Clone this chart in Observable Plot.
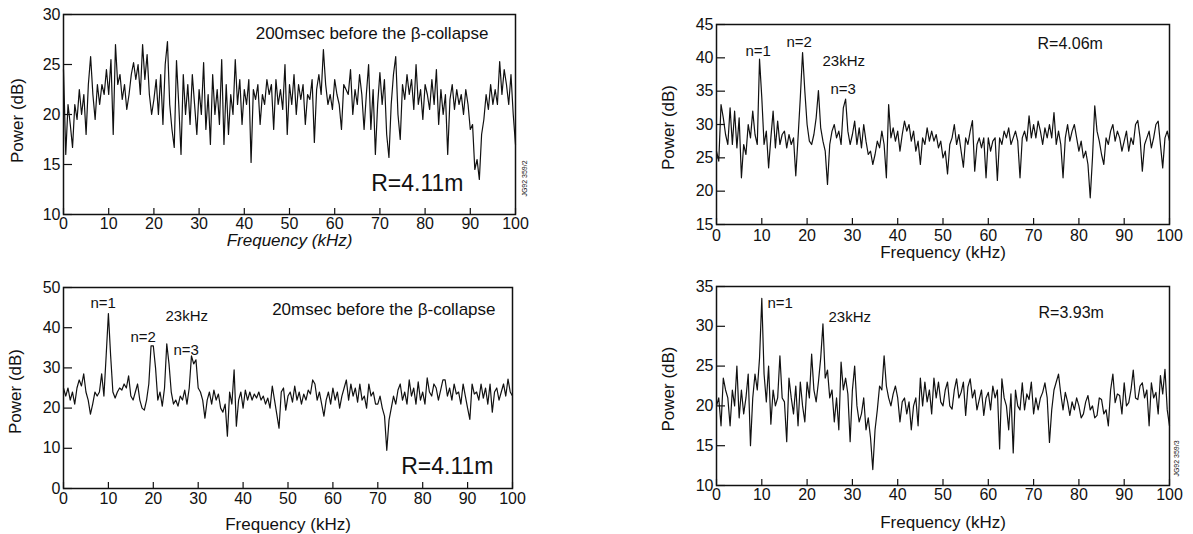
<!DOCTYPE html>
<html>
<head>
<meta charset="utf-8">
<script src="https://cdn.jsdelivr.net/npm/d3@7"></script>
<script src="https://cdn.jsdelivr.net/npm/@observablehq/plot@0.6"></script>
<style>
  body { margin: 0; background: #fff; }
  #root { position: relative; width: 1193px; height: 534px; overflow: hidden; background: #fff; }
  .panel { position: absolute; }
  g[aria-label="ls05"] text { letter-spacing: 0.5px; }
  g[aria-label="ls1"] text { letter-spacing: 1px; }
  g[aria-label="ls12"] text { letter-spacing: 1.2px; }
  g[aria-label="axlab"] text { letter-spacing: 0.4px; }
</style>
</head>
<body>
<div id="root"></div>
<script>
// ---- data: power spectra sampled every 0.5 kHz from 0 to 100 kHz ----
const stepKHz = 0.5;

// top-left: 200 msec before the beta-collapse, R = 4.11 m
const p1 = [
  24.5, 16, 21, 19, 16.7, 21, 19.5, 22.5, 20, 22,
  18, 23, 25.8, 22, 19.5, 23, 21, 23, 22, 24.5,
  22, 25.5, 18, 27, 23, 24, 21.5, 23, 20.5, 22,
  24, 25.2, 23.5, 25, 22, 27, 23.5, 26, 22, 20,
  21.5, 23.5, 20, 24, 19, 25, 27.3, 21, 18.5, 16.7,
  25.4, 21, 16, 24, 20, 23, 19, 24, 21, 18,
  22.5, 20, 25.2, 18.5, 22, 17, 24, 20, 22.5, 19,
  25.5, 17, 23, 18, 22, 20, 25.5, 21, 23.5, 19,
  22.5, 21, 23.5, 15.2, 22.5, 21.5, 23, 19, 22, 21,
  23.5, 22, 23, 18.5, 23.5, 21, 22.5, 20.5, 25, 18,
  23, 21, 24, 20, 23, 21.5, 23, 19, 22, 21.5,
  23.5, 17.2, 22.5, 24, 22, 26.5, 23, 21, 22, 20.5,
  23.5, 22, 21, 18.5, 23, 22.5, 22, 24.5, 20, 22.5,
  21, 24, 22, 18.5, 22, 25, 18.5, 22.5, 16, 21,
  24.2, 21, 23.5, 18, 15.7, 21, 24, 25.8, 20, 17.5,
  23, 21.5, 24, 22, 23.5, 20.5, 25, 21, 22.5, 19.5,
  23, 22, 20.5, 23.5, 21, 24.5, 19, 22.5, 20, 22,
  16, 21.5, 23, 20.5, 22.5, 21, 22, 20, 22.5, 21,
  18.5, 19, 14.5, 15.5, 13.5, 18, 19.5, 22, 20.5, 23,
  21, 22.5, 21, 25.3, 22, 24.5, 23, 21, 24, 20,
  17
];

// top-right: R = 4.06 m
const p2 = [
  26, 24.5, 33, 31, 28.5, 27, 32.5, 27, 32, 26.5,
  31, 22, 27, 25.5, 30, 28, 32, 28.5, 27, 39.8,
  34, 27, 29, 23.5, 28, 32, 26.5, 30.5, 27, 28.5,
  29, 26.5, 28.5, 27, 28, 22.3, 28, 34, 40.8, 35,
  30, 27.5, 27, 28.5, 31, 35.1, 29.5, 27.5, 26, 21,
  27, 29, 30, 28, 29, 27, 32.5, 33.8, 29, 27,
  28.5, 30.5, 27, 29.5, 26.5, 30, 27.5, 25.5, 26, 24,
  25.5, 27.5, 26.5, 29, 27, 22, 33, 28, 29.5, 27.5,
  29, 26, 28.5, 30.5, 29, 30, 27.5, 29, 26, 27.5,
  24, 28, 27, 29.5, 27.5, 29, 27.5, 28.5, 26.5, 27.5,
  25, 26, 22.6, 27, 28, 30, 27, 28.5, 26, 23.6,
  28, 27, 29, 30.6, 23, 27, 28, 26.5, 28, 22,
  28, 26, 27.5, 28, 21.6, 28, 27, 29, 28, 29.5,
  27, 28, 29, 27.5, 22, 28, 29, 27.5, 31.3, 28,
  30, 28, 30.5, 29, 27, 29.5, 28, 30, 28, 31.8,
  27, 29, 27, 22, 28, 30, 27.5, 29, 30, 28,
  26, 27.5, 25, 26, 24, 19, 25, 32.8, 29, 27.5,
  25.5, 24, 28, 27, 29, 30, 27.5, 29, 28, 26,
  27.5, 29, 26, 28, 27, 30, 30.6, 28, 23, 27,
  28, 29, 26.5, 28, 30, 30.5, 27, 23.5, 28, 29,
  27.5
];

// bottom-left: 20 msec before the beta-collapse, R = 4.11 m
const p3 = [
  25, 23, 25, 22, 24, 21, 25, 27, 25.5, 28.5,
  24, 22, 18.5, 21, 24, 23, 24, 28.5, 23, 33,
  43.5, 33, 24, 22.5, 24, 25, 24.5, 26, 25, 28,
  23, 22, 24, 26, 22, 20, 19.5, 22, 26, 35.5,
  35.5, 30, 22, 24, 20.5, 25, 36, 31, 24, 21,
  22, 20.5, 23, 22, 24.5, 21, 25, 33, 31, 32,
  25, 24, 22, 17.5, 22, 24, 21, 24.5, 22, 23.5,
  20, 19, 21, 13, 24, 21, 29.5, 15.5, 22, 24,
  20, 24.5, 22, 24, 22, 23.5, 22.5, 24, 22, 23,
  21, 22.5, 20, 25.5, 22, 18.5, 15, 24, 25, 19.5,
  23, 24, 21.5, 25.5, 22, 24, 21, 23.5, 22, 24.5,
  23.5, 27, 26, 22, 24, 21, 18, 22, 24, 21,
  25, 22, 24, 20, 23, 25, 27, 22, 26, 23,
  25, 21.5, 26, 22, 23, 20, 26, 23, 24, 21,
  21, 23, 20, 18, 9.5, 17, 20, 23, 21, 24.5,
  26, 22, 24, 21, 27, 23, 25, 21, 26.5, 22,
  24, 21, 27.5, 24, 23, 26, 25, 22, 24.5, 27,
  27, 23, 25, 22, 26, 23.5, 24, 21, 26, 23,
  20, 17.2, 26, 23.5, 24, 22, 26, 22.5, 25, 21,
  26, 19, 24, 25, 22, 24, 26, 23, 27.2, 24,
  23
];

// bottom-right: R = 3.93 m
const p4 = [
  20, 21, 17.5, 23.5, 22, 21, 17.5, 22, 20, 25,
  18.5, 22, 19, 21, 24, 15, 21, 24, 22, 26,
  33.5, 24, 20.5, 25, 17.7, 22, 20, 21, 26.3, 21,
  20.5, 15.5, 23.5, 21, 19, 22.5, 17.5, 23, 20, 18,
  23, 21, 26.5, 22, 20.5, 23, 26, 30.3, 23.5, 24.5,
  21, 22, 18, 21, 17, 25.5, 22, 23.5, 21.5, 15.5,
  22, 25, 20, 18, 19, 21, 17, 18.5, 16, 12,
  17, 19.5, 22.5, 22, 26.3, 22.5, 21, 20, 21.5, 22.5,
  21, 18, 20.5, 21, 19, 20.5, 17, 20, 21, 17.5,
  23.5, 20, 23, 20.5, 22, 19, 23.5, 21, 23, 20.5,
  20, 22, 23, 20, 19.6, 22, 23.4, 21, 21.7, 23,
  18.8, 22.4, 23.4, 21, 22, 19.5, 20.8, 22, 18.8, 21,
  21.7, 19.5, 22.5, 21, 22, 14.6, 23.4, 21, 20, 17,
  21.5, 14.1, 22, 20, 19.5, 22.9, 19.5, 21.5, 20.8, 23,
  19, 21, 19.5, 21, 21.7, 22.9, 21, 15.4, 19.5, 22,
  23, 24, 21.5, 19.5, 21.7, 20.5, 18.8, 20.5, 19.5, 21,
  20, 18.5, 19, 20.5, 21.3, 19.5, 20, 18.5, 18.8, 21,
  20.8, 19, 19.5, 17.5, 22, 24, 20.4, 21.5, 21.3, 19,
  22.9, 20, 20.4, 22, 24.5, 21, 20.8, 22.5, 22.9, 21,
  22, 17.5, 22.9, 21, 21.7, 19, 23.8, 21.5, 24.6, 19.5,
  17.5
];

const xTicks = [0, 10, 20, 30, 40, 50, 60, 70, 80, 90, 100];
const yTicks1 = [10, 15, 20, 25, 30];
const yTicks2 = [15, 20, 25, 30, 35, 40, 45];
const yTicks3 = [0, 10, 20, 30, 40, 50];
const yTicks4 = [10, 15, 20, 25, 30, 35];
const xLabel = "Frequency (kHz)";
const yLabel = "Power (dB)";

// ---- layout / styling ----
const FONT = "'Liberation Sans', Arial, Helvetica, sans-serif";
const X_TICK_LEN = 6, Y_TICK_LEN = 9;

const panels = [
  {
    values: p1, yDomain: [10, 30], yTicks: yTicks1,
    box: {left: 0, top: 0, width: 545, height: 265},
    m: {l: 63, r: 30, t: 14, b: 51},
    xGap: 3, xLabelDy: 31, xItalic: true, yLabDx: -45.5, yLabDy: 6,
    notes: [
      {text: "200msec before the β-collapse", fa: "top-right", ta: "end", dx: -27, dy: 24, size: 17, cls: "ls05"},
      {text: "R=4.11m", fa: "bottom-right", ta: "end", dx: -52, dy: -24, size: 23, cls: "plain"},
      {text: "JG92 359/2", fa: "bottom-right", ta: "middle", dx: 9, dy: -36, size: 7, cls: "plain", rotate: -90, la: "middle"}
    ]
  },
  {
    values: p2, yDomain: [15, 45], yTicks: yTicks2,
    box: {left: 645, top: 0, width: 548, height: 270},
    m: {l: 71, r: 24, t: 24, b: 46},
    xGap: 5, xLabelDy: 33, xItalic: false, yLabDx: -48, yLabDy: 3,
    notes: [
      {text: "n=1", fa: "top-left", ta: "start", dx: 29, dy: 31, size: 15, cls: "ls1"},
      {text: "n=2", fa: "top-left", ta: "start", dx: 70, dy: 22, size: 15, cls: "ls1"},
      {text: "23kHz", fa: "top-left", ta: "start", dx: 106, dy: 41, size: 15, cls: "ls1"},
      {text: "n=3", fa: "top-left", ta: "start", dx: 114, dy: 69, size: 15, cls: "ls1"},
      {text: "R=4.06m", fa: "top-left", ta: "start", dx: 321, dy: 24, size: 16, cls: "ls12"}
    ]
  },
  {
    values: p3, yDomain: [0, 50], yTicks: yTicks3,
    box: {left: 0, top: 267, width: 545, height: 267},
    m: {l: 63, r: 33, t: 20, b: 46},
    xGap: 4, xLabelDy: 41, xItalic: false, yLabDx: -48, yLabDy: 3.5,
    notes: [
      {text: "n=1", fa: "top-left", ta: "start", dx: 27, dy: 20, size: 15, cls: "ls1"},
      {text: "23kHz", fa: "top-left", ta: "start", dx: 102, dy: 33, size: 15, cls: "ls1"},
      {text: "n=2", fa: "top-left", ta: "start", dx: 67, dy: 54, size: 15, cls: "ls1"},
      {text: "n=3", fa: "top-left", ta: "start", dx: 110, dy: 67, size: 15, cls: "ls1"},
      {text: "20msec before the β-collapse", fa: "top-right", ta: "end", dx: -17, dy: 27, size: 17, cls: "ls05"},
      {text: "R=4.11m", fa: "bottom-right", ta: "end", dx: -19, dy: -15, size: 23, cls: "plain"}
    ]
  },
  {
    values: p4, yDomain: [10, 35], yTicks: yTicks4,
    box: {left: 645, top: 267, width: 548, height: 267},
    m: {l: 71, r: 24, t: 19, b: 49},
    xGap: 3, xLabelDy: 42, xItalic: false, yLabDx: -48, yLabDy: 3,
    notes: [
      {text: "n=1", fa: "top-left", ta: "start", dx: 51, dy: 21, size: 15, cls: "ls1"},
      {text: "23kHz", fa: "top-left", ta: "start", dx: 112, dy: 35, size: 15, cls: "ls1"},
      {text: "R=3.93m", fa: "top-left", ta: "start", dx: 322, dy: 31, size: 16, cls: "ls12"},
      {text: "JG92 359/3", fa: "bottom-right", ta: "middle", dx: 7, dy: -27, size: 7, cls: "plain", rotate: -90, la: "middle"}
    ]
  }
];

const root = document.getElementById("root");

for (const cfg of panels) {
  const rows = cfg.values.map((v, i) => ({f: i * stepKHz, p: v}));
  const innerW = cfg.box.width - cfg.m.l - cfg.m.r;
  const innerH = cfg.box.height - cfg.m.t - cfg.m.b;
  const noteMarks = cfg.notes.map(n => Plot.text([n.text], {
    text: d => d,
    frameAnchor: n.fa,
    textAnchor: n.ta,
    lineAnchor: n.la || "bottom",
    rotate: n.rotate || 0,
    dx: n.dx, dy: n.dy,
    fontSize: n.size,
    fill: "#111",
    ariaLabel: n.cls
  }));
  const svg = Plot.plot({
    width: cfg.box.width,
    height: cfg.box.height,
    marginLeft: cfg.m.l, marginRight: cfg.m.r, marginTop: cfg.m.t, marginBottom: cfg.m.b,
    style: {fontFamily: FONT, fontSize: "16px", color: "#111", background: "transparent", overflow: "visible"},
    x: {domain: [0, 100]},
    y: {domain: cfg.yDomain},
    marks: [
      // tick labels only (ticks drawn inward below)
      Plot.axisX({ticks: xTicks, anchor: "bottom", tickSize: 0, tickPadding: cfg.xGap, label: null, tickFormat: d => String(d)}),
      Plot.axisY({ticks: cfg.yTicks, anchor: "left", tickSize: 0, tickPadding: 3, label: null, tickFormat: d => String(d)}),
      // inward tick marks
      Plot.tickX(xTicks, {x: d => d, insetTop: innerH - X_TICK_LEN, stroke: "#111", strokeWidth: 1.2}),
      Plot.tickY(cfg.yTicks, {y: d => d, insetRight: innerW - Y_TICK_LEN, stroke: "#111", strokeWidth: 1.2}),
      Plot.line(rows, {x: "f", y: "p", stroke: "#111", strokeWidth: 1.2, curve: "linear"}),
      Plot.frame({stroke: "#111", strokeWidth: 1.5}),
      Plot.text([yLabel], {text: d => d, frameAnchor: "left", rotate: -90, textAnchor: "middle", lineAnchor: "middle",
        dx: cfg.yLabDx, dy: cfg.yLabDy, fontSize: 17, fill: "#111", ariaLabel: "axlab"}),
      Plot.text([xLabel], {text: d => d, frameAnchor: "bottom", textAnchor: "middle", lineAnchor: "bottom",
        dy: cfg.xLabelDy, fontSize: 17, fontStyle: cfg.xItalic ? "italic" : "normal", fill: "#111", ariaLabel: "axlab"}),
      ...noteMarks
    ]
  });
  const wrap = document.createElement("div");
  wrap.className = "panel";
  wrap.style.left = cfg.box.left + "px";
  wrap.style.top = cfg.box.top + "px";
  wrap.appendChild(svg);
  root.appendChild(wrap);
}
</script>
</body>
</html>
